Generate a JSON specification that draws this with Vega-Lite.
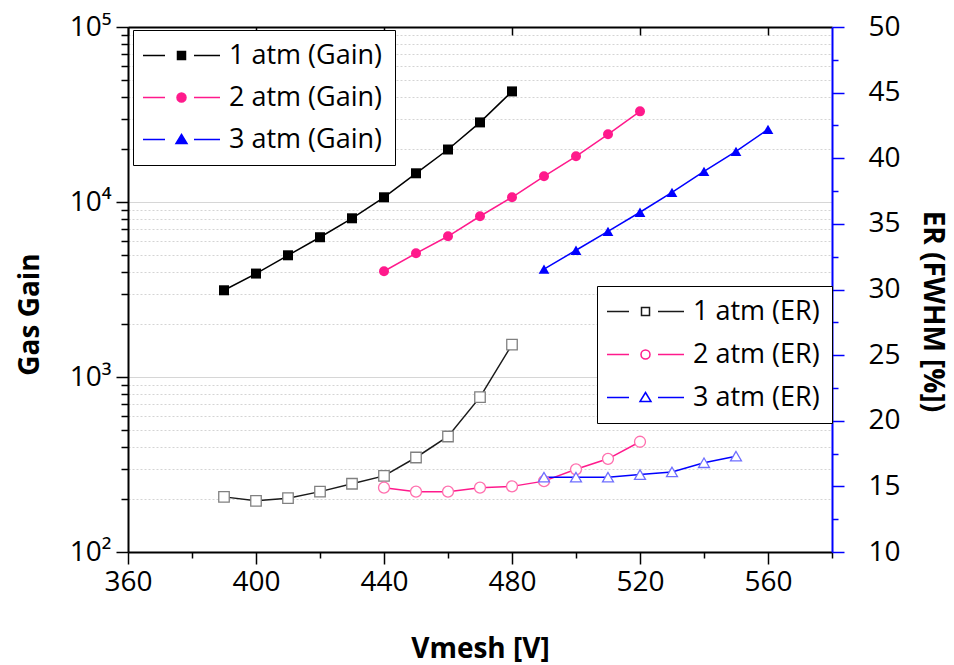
{
  "$schema": "https://vega.github.io/schema/vega-lite/v6.json",
  "width": 704,
  "height": 525,
  "autosize": {"type": "none"},
  "padding": {"left": 128, "top": 27, "right": 122, "bottom": 113},
  "background": "white",
  "config": {
    "font": "Open Sans",
    "view": {"stroke": null},
    "axis": {
      "labelFont": "Open Sans", "titleFont": "Open Sans", "labelColor": "black", "titleColor": "black",
      "labelFontSize": 28, "titleFontSize": 28, "titleFontWeight": "bold",
      "domainWidth": 2, "domainColor": "black", "tickColor": "black", "tickWidth": 1.5,
      "labelOverlap": false, "labelFlush": false
    },
    "legend": {"labelFont": "Open Sans", "labelFontSize": 27, "labelColor": "black"}
  },
  "datasets": {
    "gain": [
      {"vmesh": 390, "series": "1 atm (Gain)", "gain": 3130},
      {"vmesh": 400, "series": "1 atm (Gain)", "gain": 3900},
      {"vmesh": 410, "series": "1 atm (Gain)", "gain": 4960},
      {"vmesh": 420, "series": "1 atm (Gain)", "gain": 6290},
      {"vmesh": 430, "series": "1 atm (Gain)", "gain": 8070},
      {"vmesh": 440, "series": "1 atm (Gain)", "gain": 10640},
      {"vmesh": 450, "series": "1 atm (Gain)", "gain": 14590},
      {"vmesh": 460, "series": "1 atm (Gain)", "gain": 19950},
      {"vmesh": 470, "series": "1 atm (Gain)", "gain": 28500},
      {"vmesh": 480, "series": "1 atm (Gain)", "gain": 42850},
      {"vmesh": 440, "series": "2 atm (Gain)", "gain": 4020},
      {"vmesh": 450, "series": "2 atm (Gain)", "gain": 5090},
      {"vmesh": 460, "series": "2 atm (Gain)", "gain": 6370},
      {"vmesh": 470, "series": "2 atm (Gain)", "gain": 8290},
      {"vmesh": 480, "series": "2 atm (Gain)", "gain": 10640},
      {"vmesh": 490, "series": "2 atm (Gain)", "gain": 14030},
      {"vmesh": 500, "series": "2 atm (Gain)", "gain": 18250},
      {"vmesh": 510, "series": "2 atm (Gain)", "gain": 24370},
      {"vmesh": 520, "series": "2 atm (Gain)", "gain": 32960},
      {"vmesh": 490, "series": "3 atm (Gain)", "gain": 4130},
      {"vmesh": 500, "series": "3 atm (Gain)", "gain": 5300},
      {"vmesh": 510, "series": "3 atm (Gain)", "gain": 6800},
      {"vmesh": 520, "series": "3 atm (Gain)", "gain": 8740},
      {"vmesh": 530, "series": "3 atm (Gain)", "gain": 11360},
      {"vmesh": 540, "series": "3 atm (Gain)", "gain": 14960},
      {"vmesh": 550, "series": "3 atm (Gain)", "gain": 19450},
      {"vmesh": 560, "series": "3 atm (Gain)", "gain": 26000}
    ],
    "er": [
      {"vmesh": 390, "series": "1 atm (ER)", "er": 14.2},
      {"vmesh": 400, "series": "1 atm (ER)", "er": 13.9},
      {"vmesh": 410, "series": "1 atm (ER)", "er": 14.1},
      {"vmesh": 420, "series": "1 atm (ER)", "er": 14.6},
      {"vmesh": 430, "series": "1 atm (ER)", "er": 15.2},
      {"vmesh": 440, "series": "1 atm (ER)", "er": 15.8},
      {"vmesh": 450, "series": "1 atm (ER)", "er": 17.2},
      {"vmesh": 460, "series": "1 atm (ER)", "er": 18.8},
      {"vmesh": 470, "series": "1 atm (ER)", "er": 21.8},
      {"vmesh": 480, "series": "1 atm (ER)", "er": 25.8},
      {"vmesh": 440, "series": "2 atm (ER)", "er": 14.9},
      {"vmesh": 450, "series": "2 atm (ER)", "er": 14.6},
      {"vmesh": 460, "series": "2 atm (ER)", "er": 14.6},
      {"vmesh": 470, "series": "2 atm (ER)", "er": 14.9},
      {"vmesh": 480, "series": "2 atm (ER)", "er": 15.0},
      {"vmesh": 490, "series": "2 atm (ER)", "er": 15.4},
      {"vmesh": 500, "series": "2 atm (ER)", "er": 16.3},
      {"vmesh": 510, "series": "2 atm (ER)", "er": 17.1},
      {"vmesh": 520, "series": "2 atm (ER)", "er": 18.4},
      {"vmesh": 490, "series": "3 atm (ER)", "er": 15.7},
      {"vmesh": 500, "series": "3 atm (ER)", "er": 15.7},
      {"vmesh": 510, "series": "3 atm (ER)", "er": 15.7},
      {"vmesh": 520, "series": "3 atm (ER)", "er": 15.9},
      {"vmesh": 530, "series": "3 atm (ER)", "er": 16.1},
      {"vmesh": 540, "series": "3 atm (ER)", "er": 16.8},
      {"vmesh": 550, "series": "3 atm (ER)", "er": 17.3}
    ]
  },
  "layer": [
    {
      "data": {"name": "gain"},
      "encoding": {
        "x": {
          "field": "vmesh", "type": "quantitative",
          "scale": {"domain": [360, 580], "nice": false, "zero": false},
          "axis": {
            "orient": "bottom",
            "values": [360, 380, 400, 420, 440, 460, 480, 500, 520, 540, 560, 580],
            "labelExpr": "(datum.value % 40 == 0 && datum.value < 580) ? datum.label : ''",
            "tickSize": {"condition": {"test": "datum.value % 40 == 0", "value": 12}, "value": 6},
            "labelPadding": 4,
            "grid": false,
            "title": "Vmesh [V]",
            "titleY": 105,
            "titleBaseline": "alphabetic"
          }
        },
        "y": {
          "field": "gain", "type": "quantitative",
          "scale": {"type": "log", "domain": [100, 100000], "nice": false},
          "axis": {
            "orient": "left",
            "values": [100, 200, 300, 400, 500, 600, 700, 800, 900, 1000, 2000, 3000, 4000, 5000, 6000, 7000, 8000, 9000, 10000, 20000, 30000, 40000, 50000, 60000, 70000, 80000, 90000, 100000],
            "labelExpr": "datum.value == 100 ? '10²' : datum.value == 1000 ? '10³' : datum.value == 10000 ? '10⁴' : datum.value == 100000 ? '10⁵' : ''",
            "tickSize": {"condition": {"test": "datum.value == 100 || datum.value == 1000 || datum.value == 10000 || datum.value == 100000", "value": 12}, "value": 7},
            "grid": true,
            "gridColor": {"condition": {"test": "datum.value == 100 || datum.value == 1000 || datum.value == 10000 || datum.value == 100000", "value": "#d6d6d6"}, "value": "#d4d4d4"},
            "gridDash": {"condition": {"test": "datum.value == 100 || datum.value == 1000 || datum.value == 10000 || datum.value == 100000", "value": []}, "value": [2, 2]},
            "gridWidth": 1,
            "labelPadding": 5,
            "title": "Gas Gain",
            "titleAngle": -90,
            "titleX": -84,
            "titleY": 287,
            "titleAlign": "center",
            "titleBaseline": "bottom"
          }
        },
        "color": {
          "field": "series", "type": "nominal",
          "scale": {"domain": ["1 atm (Gain)", "2 atm (Gain)", "3 atm (Gain)"], "range": ["#000000", "#ff1a8c", "#0000ff"]},
          "legend": {
            "orient": "none", "legendX": 5, "legendY": 3,
            "direction": "vertical", "title": null,
            "strokeColor": "black", "fillColor": "white",
            "padding": 12, "rowPadding": 14,
            "symbolSize": 4, "symbolOffset": 23, "labelOffset": 34,
            "encode": {
              "symbols": {"update": {
                "shape": {"signal": "datum.value == '1 atm (Gain)' ? 'M-38.5,0H-16.5M12.5,0H38.5M-4,-4H4V4H-4Z' : datum.value == '2 atm (Gain)' ? 'M-38.5,0H-16.5M12.5,0H38.5M4.5,0A4.5,4.5,0,1,1,-4.5,0A4.5,4.5,0,1,1,4.5,0Z' : 'M-38.5,0H-16.5M12.5,0H38.5M0,-5L5.5,4H-5.5Z'"},
                "strokeWidth": {"value": 1.5},
                "size": {"value": 4},
                "opacity": {"value": 1}
              }}
            }
          }
        }
      },
      "layer": [
        {"mark": {"type": "line", "strokeWidth": 1.5}},
        {
          "transform": [{"filter": {"field": "series", "equal": "1 atm (Gain)"}}],
          "mark": {"type": "point", "shape": "square", "filled": true, "size": 100, "opacity": 1}
        },
        {
          "transform": [{"filter": {"field": "series", "equal": "2 atm (Gain)"}}],
          "mark": {"type": "point", "shape": "circle", "filled": true, "size": 100, "opacity": 1}
        },
        {
          "transform": [{"filter": {"field": "series", "equal": "3 atm (Gain)"}}],
          "mark": {"type": "point", "shape": "triangle-up", "filled": true, "size": 115, "opacity": 1}
        }
      ]
    },
    {
      "data": {"name": "er"},
      "encoding": {
        "x": {
          "field": "vmesh", "type": "quantitative",
          "scale": {"domain": [360, 580], "nice": false, "zero": false},
          "axis": {
            "orient": "top",
            "values": [360, 400, 440, 480, 520, 560],
            "labels": false,
            "tickSize": -8,
            "grid": false,
            "title": null
          }
        },
        "y": {
          "field": "er", "type": "quantitative",
          "scale": {"domain": [10, 50], "nice": false, "zero": false},
          "axis": {
            "orient": "right",
            "values": [10, 12.5, 15, 17.5, 20, 22.5, 25, 27.5, 30, 32.5, 35, 37.5, 40, 42.5, 45, 47.5, 50],
            "labelExpr": "datum.value % 5 == 0 ? datum.label : ''",
            "tickSize": {"condition": {"test": "datum.value % 5 == 0", "value": 12}, "value": 6},
            "tickColor": "#0000ff",
            "domainColor": "#0000ff",
            "grid": false,
            "labelPadding": 24,
            "title": "ER (FWHM [%])",
            "titleAngle": 90,
            "titleX": 85,
            "titleY": 284,
            "titleAlign": "center",
            "titleBaseline": "bottom"
          }
        }
      },
      "layer": [
        {
          "mark": {"type": "line", "strokeWidth": 1.5},
          "encoding": {
            "color": {
              "field": "series", "type": "nominal",
              "scale": {"domain": ["1 atm (ER)", "2 atm (ER)", "3 atm (ER)"], "range": ["#1a1a1a", "#ff1a8c", "#0000ff"]},
              "legend": {
                "orient": "none", "legendX": 469, "legendY": 259,
                "direction": "vertical", "title": null,
                "strokeColor": "black", "fillColor": "white",
                "padding": 12, "rowPadding": 15,
                "symbolSize": 4, "symbolOffset": 23, "labelOffset": 34,
                "encode": {
                  "symbols": {"update": {
                    "shape": {"signal": "datum.value == '1 atm (ER)' ? 'M-38.5,0H-16.5M12.5,0H38.5M-4,-4H4V4H-4Z' : datum.value == '2 atm (ER)' ? 'M-38.5,0H-16.5M12.5,0H38.5M4.5,0A4.5,4.5,0,1,1,-4.5,0A4.5,4.5,0,1,1,4.5,0Z' : 'M-38.5,0H-16.5M12.5,0H38.5M0,-5L5.5,4H-5.5Z'"},
                    "fill": {"value": "white"},
                    "strokeWidth": {"value": 1.5},
                    "size": {"value": 4},
                    "opacity": {"value": 1}
                  }}
                }
              }
            }
          }
        },
        {
          "transform": [{"filter": {"field": "series", "equal": "1 atm (ER)"}}],
          "mark": {"type": "point", "shape": "square", "filled": false, "fill": "white", "stroke": "#808080", "size": 110, "strokeWidth": 1.3, "opacity": 1}
        },
        {
          "transform": [{"filter": {"field": "series", "equal": "2 atm (ER)"}}],
          "mark": {"type": "point", "shape": "circle", "filled": false, "fill": "white", "stroke": "#ff6fae", "size": 120, "strokeWidth": 1.3, "opacity": 1}
        },
        {
          "transform": [{"filter": {"field": "series", "equal": "3 atm (ER)"}}],
          "mark": {"type": "point", "shape": "triangle-up", "filled": false, "fill": "white", "stroke": "#6f6fff", "size": 120, "strokeWidth": 1.3, "opacity": 1}
        }
      ]
    }
  ],
  "resolve": {
    "scale": {"y": "independent", "color": "independent"},
    "axis": {"x": "independent", "y": "independent"}
  }
}
